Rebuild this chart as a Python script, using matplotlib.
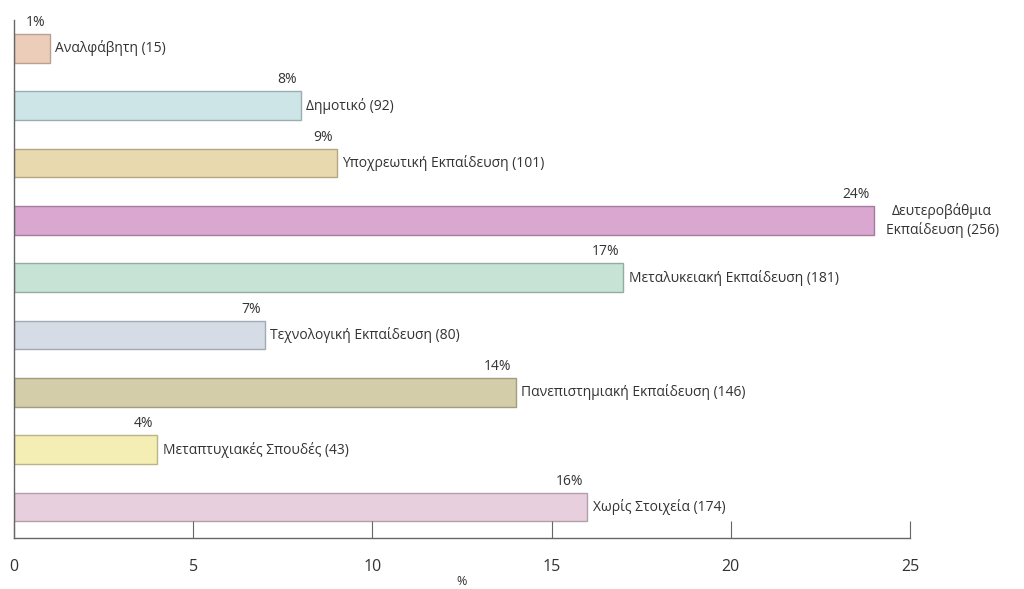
import numpy as np
import matplotlib
matplotlib.use('Agg')
import matplotlib.pyplot as plt

plt.rcParams['font.family'] = ['Open Sans', 'DejaVu Sans']

# data
categories = ['Αναλφάβητη', 'Δημοτικό', 'Υποχρεωτική Εκπαίδευση', 'Δευτεροβάθμια\nΕκπαίδευση',
              'Μεταλυκειακή Εκπαίδευση', 'Τεχνολογική Εκπαίδευση', 'Πανεπιστημιακή Εκπαίδευση',
              'Μεταπτυχιακές Σπουδές', 'Χωρίς Στοιχεία']
counts = [15, 92, 101, 256, 181, 80, 146, 43, 174]
percents = [1, 8, 9, 24, 17, 7, 14, 4, 16]
colors = ['#ebcdb9', '#cde5e6', '#e9d9af', '#d9a7d0', '#c7e3d5', '#d6dce5', '#d3cda9', '#f4edb4', '#e8cfdd']
edges = ['#b9a091', '#98aeb0', '#b3a683', '#a47c9c', '#93ad9f', '#a3a9b2', '#a29d7e', '#bbb485', '#b39fab']
xticks = [0, 5, 10, 15, 20, 25]

fig = plt.figure(figsize=(10.24, 5.89), dpi=100)
ax = fig.add_axes([0.0137, 0.0866, 0.875, 0.88])

ypos = np.arange(len(categories))[::-1]
ax.barh(ypos, percents, height=0.5, color=colors, edgecolor=edges, linewidth=1)

for y, p, c, name in zip(ypos, percents, counts, categories):
    ax.annotate(f'{p}%', (p, y + 0.25), xytext=(-3, 3), textcoords='offset points',
                ha='right', va='bottom', fontsize=10, color='#333333')
    label = f'{name} ({c})'
    if '\n' in name:
        ax.annotate(label, (p, y), xytext=(49, 0), textcoords='offset points',
                    ha='center', va='center', fontsize=10, color='#333333', multialignment='center',
                    linespacing=1.3)
    else:
        ax.annotate(label, (p, y), xytext=(4, 0), textcoords='offset points',
                    ha='left', va='center', fontsize=10, color='#333333')

ax.set_xlim(0, 25)
ax.set_ylim(-0.54, 8.5)
ax.set_xticks(xticks)
ax.set_yticks([])
ax.tick_params(axis='x', direction='in', length=12, pad=15, labelsize=11.5, colors='#333333', color='#666666')
ax.set_xlabel('%', fontsize=9, color='#333333', labelpad=0)
for s in ['top', 'right']:
    ax.spines[s].set_visible(False)
for s in ['left', 'bottom']:
    ax.spines[s].set_color('#666666')
    ax.spines[s].set_linewidth(1)

fig.savefig('out.png', dpi=100)
